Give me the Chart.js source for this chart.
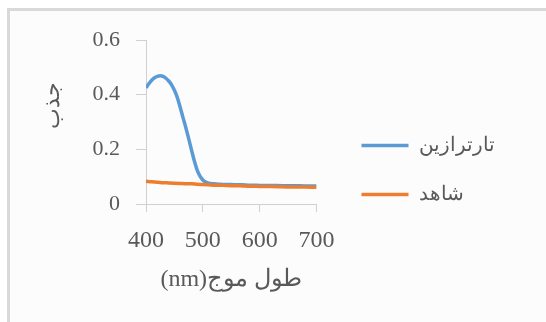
<!DOCTYPE html>
<html>
<head>
<meta charset="utf-8">
<script src="https://cdn.jsdelivr.net/npm/chart.js@4/dist/chart.umd.min.js"></script>
<style>
  html, body { margin: 0; padding: 0; background: #ffffff; overflow: hidden; }
  #frame {
    position: absolute; left: 7px; top: 8px; right: 0; bottom: 0;
    border-left: 3px solid #d9d9d9; border-top: 3px solid #d9d9d9;
    background: #fcfcfc;
  }
  #wrap { position: absolute; left: 0; top: 0; width: 546px; height: 322px; }
</style>
</head>
<body>
<div id="frame"></div>
<div id="wrap"><canvas id="myChart" width="546" height="322"></canvas></div>
<script>
const ctx = document.getElementById('myChart');

// tartrazine absorbance spectrum
const tartWavelength = [400, 405, 410, 415, 420, 425, 430, 435, 440, 445, 450, 455, 460, 465, 470, 475, 480, 485, 490, 495, 500, 505, 510, 520, 530, 540, 550, 560, 570, 580, 590, 600, 620, 640, 660, 680, 700];
const tartAbsorbance = [0.425, 0.440, 0.453, 0.462, 0.467, 0.469, 0.467, 0.460, 0.450, 0.436, 0.416, 0.390, 0.355, 0.317, 0.280, 0.240, 0.198, 0.158, 0.124, 0.102, 0.088, 0.080, 0.076, 0.074, 0.072, 0.071, 0.071, 0.070, 0.070, 0.069, 0.069, 0.068, 0.068, 0.067, 0.067, 0.066, 0.066];

// blank (control) spectrum
const blankWavelength = [400, 410, 420, 430, 440, 450, 460, 470, 480, 490, 500, 510, 520, 530, 540, 550, 560, 570, 580, 590, 600, 620, 640, 660, 680, 700];
const blankAbsorbance = [0.083, 0.081, 0.080, 0.078, 0.077, 0.076, 0.075, 0.074, 0.074, 0.072, 0.071, 0.070, 0.069, 0.069, 0.068, 0.067, 0.067, 0.066, 0.065, 0.065, 0.064, 0.064, 0.063, 0.062, 0.062, 0.061];

const seriesNames = ['تارترازين', 'شاهد'];
const xTickValues = [400, 500, 600, 700];
const yTickValues = [0, 0.2, 0.4, 0.6];
const xTitle = 'طول موج(nm)';
const yTitle = 'جذب';

const toPoints = (xs, ys) => xs.map((x, i) => ({x: x, y: ys[i]}));

// move the legend a bit away from the plot and let it run to the canvas edge
const legendOffset = {x: 16, y: -11};
const legendShift = {
    id: 'legendShift',
    afterLayout(chart) {
        const lg = chart.legend;
        lg.left += legendOffset.x;
        lg.right = chart.width;
        lg.top += legendOffset.y;
        lg.bottom += legendOffset.y;
    }
};

const axisGray = '#d0d0d0';
const textGray = '#595959';

new Chart(ctx, {
    type: 'line',
    data: {
        datasets: [
            {
                label: seriesNames[0],
                data: toPoints(tartWavelength, tartAbsorbance),
                borderColor: '#5b9bd5',
                backgroundColor: '#5b9bd5',
                borderWidth: 3.5,
                pointRadius: 0,
                cubicInterpolationMode: 'monotone',
                fill: false,
                order: 1
            },
            {
                label: seriesNames[1],
                data: toPoints(blankWavelength, blankAbsorbance),
                borderColor: '#ed7d31',
                backgroundColor: '#ed7d31',
                borderWidth: 3.5,
                pointRadius: 0,
                cubicInterpolationMode: 'monotone',
                fill: false,
                order: 0
            }
        ]
    },
    options: {
        responsive: false,
        animation: false,
        layout: { padding: { left: 0, top: 40, right: 124, bottom: 0 } },
        plugins: {
            tooltip: { enabled: false },
            legend: {
                position: 'right',
                labels: {
                    usePointStyle: true,
                    pointStyle: 'line',
                    pointStyleWidth: 47,
                    padding: 29,
                    color: textGray,
                    sort: (a, b) => a.datasetIndex - b.datasetIndex,
                    font: { family: '"Liberation Sans", Arial, sans-serif', size: 20 }
                }
            }
        },
        scales: {
            x: {
                type: 'linear',
                min: 400,
                max: 700,
                afterFit: s => { s.height = 118; },
                afterBuildTicks: s => { s.ticks = xTickValues.map(v => ({value: v})); },
                grid: { drawOnChartArea: false, drawTicks: true, tickLength: 8, color: axisGray },
                border: { color: axisGray },
                ticks: {
                    padding: 14,
                    color: textGray,
                    maxRotation: 0,
                    font: { family: '"Liberation Serif", serif', size: 24 }
                },
                title: {
                    display: true,
                    text: '\u202B' + xTitle + '\u202C',
                    color: textGray,
                    padding: { top: 0, bottom: 28 },
                    font: { family: '"Liberation Serif", serif', size: 24 }
                }
            },
            y: {
                min: 0,
                max: 0.6,
                afterFit: s => { s.width = 146; },
                afterBuildTicks: s => { s.ticks = yTickValues.map(v => ({value: v})); },
                grid: { drawOnChartArea: false, drawTicks: true, tickLength: 10, color: axisGray },
                border: { color: axisGray },
                ticks: {
                    padding: 16,
                    color: textGray,
                    callback: v => String(v),
                    font: { family: '"Liberation Serif", serif', size: 22 }
                },
                title: {
                    display: true,
                    text: '      ' + yTitle,
                    color: textGray,
                    padding: { top: 40, bottom: 0 },
                    font: { family: '"Liberation Serif", serif', size: 22 }
                }
            }
        }
    },
    plugins: [legendShift]
});
</script>
</body>
</html>
